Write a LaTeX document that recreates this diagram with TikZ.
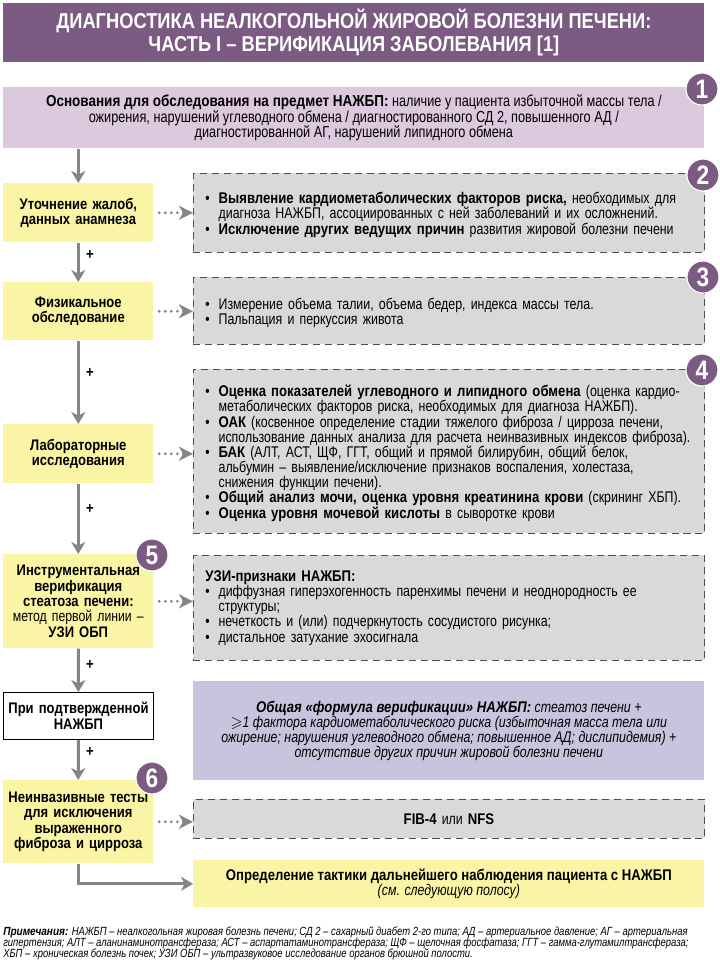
\documentclass[tikz,border=0pt]{standalone}
\usepackage{amssymb}
\usepackage{fontspec}
\setmainfont{Liberation Sans}[FakeStretch=0.8, BoldFeatures={FakeStretch=0.85}, BoldItalicFeatures={FakeStretch=0.85}]
\usetikzlibrary{arrows.meta,positioning,calc}
\definecolor{npurple}{HTML}{7C5B82}
\definecolor{nlilac}{HTML}{DDC9DD}
\definecolor{nyellow}{HTML}{FAF5A5}
\definecolor{ngray}{HTML}{D9D9D9}
\definecolor{nviolet}{HTML}{C8C4DE}
\definecolor{narrow}{HTML}{858585}
\definecolor{ndash}{HTML}{4D4D4D}
\newcommand{\bodyfont}{\fontsize{11}{10.8}\selectfont}
\newcommand{\itm}{\par\noindent\hangindent=0.33cm\hangafter=1\makebox[0.33cm][l]{•}}

\begin{document}
\begin{tikzpicture}[x=0.025cm, y=-0.025cm, font=\bodyfont,
  titlebar/.style={fill=npurple, text=white, anchor=north west, minimum width=17.525cm, minimum height=1.475cm,
                   align=center, inner sep=0pt, font=\fontsize{15.3}{16.2}\selectfont\bfseries},
  reason/.style={fill=nlilac, anchor=north west, minimum width=17.525cm, minimum height=1.525cm,
                 align=center, inner sep=0pt, font=\fontsize{11.3}{11.2}\selectfont},
  stage/.style={fill=nyellow, anchor=north west, minimum width=3.75cm, text width=3.6cm,
                align=center, inner sep=0pt, font=\fontsize{10.9}{10.9}\selectfont\bfseries},
  confirm/.style={stage, fill=white, draw=black, line width=0.6pt},
  infobox/.style={fill=ngray, draw=ndash, line width=0.6pt, dash pattern=on 5pt off 3.5pt,
                  anchor=north west, minimum width=12.775cm, text width=12.175cm, align=left,
                  inner xsep=0.3cm, inner ysep=0pt},
  formula/.style={fill=nviolet, anchor=north west, minimum width=12.775cm, minimum height=2.475cm,
                  align=center, inner sep=0pt, font=\bodyfont\itshape},
  outcome/.style={fill=nyellow, anchor=north west, minimum width=12.775cm, minimum height=1.175cm,
                  align=center, inner sep=0pt},
  badge/.style={circle, fill=npurple, draw=white, line width=0.8pt, minimum size=0.8cm, inner sep=0pt,
                text=white, font=\fontsize{19}{19}\selectfont\bfseries},
  plus/.style={font=\bodyfont\bfseries, inner sep=0pt},
  flow/.style={draw=narrow, line width=2.1pt, -{Stealth[length=8.5pt, width=10pt, inset=2.5pt]}},
  hint/.style={draw=narrow, line width=2.2pt, line cap=round, dash pattern=on 0pt off 4.3pt,
               shorten <=4pt, -{Stealth[length=10pt, width=10pt, inset=3pt, line cap=butt]}},
  note/.style={anchor=north west, align=left, inner sep=0pt,
               font=\fontsize{8.4}{8.1}\selectfont\itshape}]
\useasboundingbox (0,0) rectangle (720,976);
% ---------------- title and grounds
\node[titlebar] (title) at (3,3) {ДИАГНОСТИКА НЕАЛКОГОЛЬНОЙ ЖИРОВОЙ БОЛЕЗНИ ПЕЧЕНИ:\\ ЧАСТЬ I – ВЕРИФИКАЦИЯ ЗАБОЛЕВАНИЯ [1]};
\node[reason] (grounds) at (3,87) {\textbf{Основания для обследования на предмет НАЖБП:} наличие у пациента избыточной массы тела /\\
  ожирения, нарушений углеводного обмена / диагностированного СД 2, повышенного АД /\\
  диагностированной АГ, нарушений липидного обмена};
% ---------------- left column: steps
\node[stage, minimum height=1.475cm] (complaints) at (3,183) {Уточнение жалоб,\\ данных анамнеза};
\node[stage, minimum height=1.45cm] (physical) at (3,282) {Физикальное\\ обследование};
\node[stage, minimum height=1.475cm] (lab) at (3,424) {Лабораторные\\ исследования};
\node[stage, minimum height=2.35cm] (ultra) at (3,554) {Инструментальная\\ верификация\\ стеатоза печени:\\
  \mdseries метод первой линии –\\ \bfseries УЗИ ОБП};
\node[confirm, minimum height=1.175cm] (confirmed) at (3,692) {При подтвержденной\\ НАЖБП};
\node[stage, minimum height=2.075cm] (fibro) at (3,780) {Неинвазивные тесты\\ для исключения\\ выраженного\\ фиброза и цирроза};
% ---------------- right column: contents
\node[infobox, minimum height=1.975cm] (risk) at (193,173) {%
  \itm\textbf{Выявление кардиометаболических факторов риска,} необходимых для\newline
  диагноза НАЖБП, ассоциированных с ней заболеваний и их осложнений.
  \itm\textbf{Исключение других ведущих причин} развития жировой болезни печени};
\node[infobox, minimum height=1.675cm] (exam) at (193,277) {%
  \itm Измерение объема талии, объема бедер, индекса массы тела.
  \itm Пальпация и перкуссия живота};
\node[infobox, minimum height=4.1cm] (tests) at (193,369) {%
  \itm\textbf{Оценка показателей углеводного и липидного обмена} (оценка кардио-\newline
  метаболических факторов риска, необходимых для диагноза НАЖБП).
  \itm\textbf{ОАК} (косвенное определение стадии тяжелого фиброза / цирроза печени,\newline
  использование данных анализа для расчета неинвазивных индексов фиброза).
  \itm\textbf{БАК} (АЛТ, АСТ, ЩФ, ГГТ, общий и прямой билирубин, общий белок,\newline
  альбумин – выявление/исключение признаков воспаления, холестаза,\newline
  снижения функции печени).
  \itm\textbf{Общий анализ мочи, оценка уровня креатинина крови} (скрининг ХБП).
  \itm\textbf{Оценка уровня мочевой кислоты} в сыворотке крови};
\node[infobox, minimum height=2.625cm] (signs) at (193,555) {%
  \noindent\textbf{УЗИ-признаки НАЖБП:}
  \itm диффузная гиперэхогенность паренхимы печени и неоднородность ее\newline структуры;
  \itm нечеткость и (или) подчеркнутость сосудистого рисунка;
  \itm дистальное затухание эхосигнала};
\node[formula] (rule) at (193,681) {\textbf{Общая «формула верификации» НАЖБП:} стеатоз печени +\\
  $\geqslant$1 фактора кардиометаболического риска (избыточная масса тела или\\
  ожирение; нарушения углеводного обмена; повышенное АД; дислипидемия) +\\
  отсутствие других причин жировой болезни печени};
\node[infobox, minimum height=0.975cm, align=center] (fib) at (193,799) {\textbf{FIB-4} или \textbf{NFS}};
\node[outcome] (tactics) at (193,860) {\textbf{Определение тактики дальнейшего наблюдения пациента с НАЖБП}\\
  \textit{(см. следующую полосу)}};
% ---------------- badges
\node[badge] (b1) at (702,89) {1};
\node[badge] (b2) at (703,175) {2};
\node[badge] (b3) at (703,277) {3};
\node[badge] (b4) at (702,370) {4};
\node[badge] (b5) at (152,555) {5};
\node[badge] (b6) at (152,778) {6};
% ---------------- connectors
\draw[flow] (grounds.south -| complaints.north) -- (complaints.north);
\draw[flow] (complaints) -- (physical);
\draw[flow] (physical) -- (lab);
\draw[flow] (lab) -- (ultra.north);
\draw[flow] (ultra) -- (confirmed);
\draw[flow] (confirmed) -- (fibro.north);
\draw[flow] (fibro.south) |- (tactics.west);
\foreach \s/\t in {complaints/risk, physical/exam, lab/tests, ultra/signs, fibro/fib}
  \draw[hint] (\s.east) -- (\s.east -| \t.west);
\foreach \i/\y in {1/255, 2/373, 3/509, 4/665, 5/752}
  \node[plus] (plus\i) at (90,\y) {+};
% ---------------- notes
\node[note] (notes) at (3,926) {\textbf{Примечания:} НАЖБП – неалкогольная жировая болезнь печени; СД 2 – сахарный диабет 2-го типа; АД – артериальное давление; АГ – артериальная\\
  гипертензия; АЛТ – аланинаминотрансфераза; АСТ – аспартатаминотрансфераза; ЩФ – щелочная фосфатаза; ГГТ – гамма-глутамилтрансфераза;\\
  ХБП – хроническая болезнь почек; УЗИ ОБП – ультразвуковое исследование органов брюшной полости.};
\end{tikzpicture}
\end{document}
